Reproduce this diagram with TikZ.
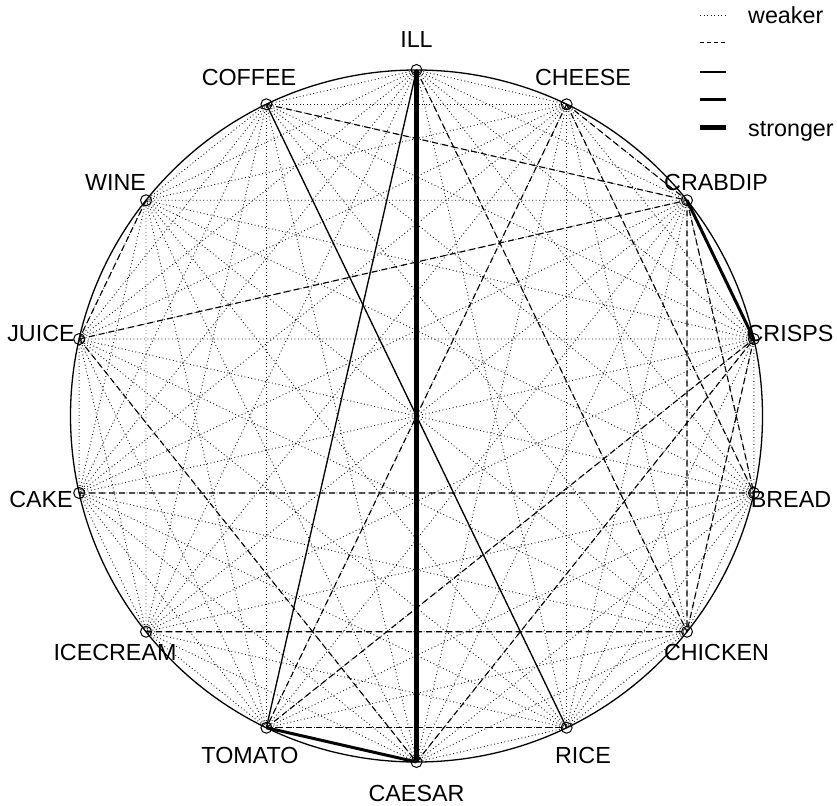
\documentclass[tikz,border=0pt]{standalone}
\usepackage{fontspec}
\setmainfont{Liberation Sans}
\begin{document}
\begin{tikzpicture}[x=1pt,y=-1pt,
  vtx/.style={circle,draw=black,line width=1pt,minimum size=11pt,inner sep=0pt},
  lbl/.style={inner sep=0pt,font=\fontsize{23.3}{28}\selectfont},
  weak/.style={line width=0.9pt,dash pattern=on 0.9pt off 2.6pt,black!90},
  dsh/.style={line width=1.1pt,dash pattern=on 6pt off 4pt},
  sld/.style={line width=1.3pt},
  thk/.style={line width=3pt},
  thkk/.style={line width=5pt}]
\useasboundingbox (0,0) rectangle (837,805);
% vertices
\foreach \n [count=\i from 0] in {ILL,CHEESE,CRABDIP,CRISPS,BREAD,CHICKEN,RICE,CAESAR,TOMATO,ICECREAM,CAKE,JUICE,WINE,COFFEE}{
  \coordinate (v\i) at ({416.5+346*cos(90-\i*360/14)},{416-346*sin(90-\i*360/14)});
}
% weakest: all pairs
\foreach \a in {0,...,12}{
  \pgfmathtruncatemacro\s{\a+1}
  \foreach \b in {\s,...,13}{
    \draw[weak] (v\a) -- (v\b);
  }
}
\draw[line width=1.3pt] (416.5,416) circle[radius=346];
\foreach \n [count=\i from 0] in {ILL,CHEESE,CRABDIP,CRISPS,BREAD,CHICKEN,RICE,CAESAR,TOMATO,ICECREAM,CAKE,JUICE,WINE,COFFEE}{
  \node[vtx] (\n) at (v\i) {};
}
% dashed
\foreach \a/\b in {COFFEE/CRABDIP,CHEESE/CRABDIP,CHEESE/BREAD,CHEESE/TOMATO,ILL/CHICKEN,JUICE/CRABDIP,WINE/JUICE,JUICE/CAESAR,CAKE/BREAD,ICECREAM/CHICKEN,TOMATO/RICE,CAESAR/CRISPS,TOMATO/CRISPS,CRABDIP/CHICKEN,CRABDIP/BREAD,CRISPS/CHICKEN}{
  \draw[dsh] (\a.center) -- (\b.center);
}
% solid
\draw[sld] (COFFEE.center) -- (RICE.center);
\draw[sld] (ILL.center) -- (TOMATO.center);
% thick
\draw[thk] (CRABDIP.center) -- (CRISPS.center);
\draw[thk] (TOMATO.center) -- (CAESAR.center);
% thickest
\draw[thkk] (ILL.center) -- (CAESAR.center);
% labels
\node[lbl] (lILL) at (416.5,39) {ILL};
\node[lbl] (lCAESAR) at (416.5,793) {CAESAR};
\node[lbl] (lCOFFEE) at (249,77) {COFFEE};
\node[lbl] (lCHEESE) at (583,77) {CHEESE};
\node[lbl] (lWINE) at (115.5,182) {WINE};
\node[lbl] (lCRABDIP) at (716,182) {CRABDIP};
\node[lbl] (lJUICE) at (41,333) {JUICE};
\node[lbl] (lCRISPS) at (790,333) {CRISPS};
\node[lbl] (lCAKE) at (41,499) {CAKE};
\node[lbl] (lBREAD) at (791,499) {BREAD};
\node[lbl] (lICECREAM) at (115,652) {ICECREAM};
\node[lbl] (lCHICKEN) at (716.5,652) {CHICKEN};
\node[lbl] (lTOMATO) at (250,755) {TOMATO};
\node[lbl] (lRICE) at (583,755) {RICE};
% legend
\coordinate (g1a) at (700,15);  \coordinate (g1b) at (726,15);
\coordinate (g2a) at (700,43);  \coordinate (g2b) at (726,43);
\coordinate (g3a) at (700,72);  \coordinate (g3b) at (726,72);
\coordinate (g4a) at (700,100); \coordinate (g4b) at (726,100);
\coordinate (g5a) at (700,128); \coordinate (g5b) at (726,128);
\draw[weak] (g1a) -- (g1b);
\draw[line width=1pt,dash pattern=on 4pt off 3pt] (g2a) -- (g2b);
\draw[sld] (g3a) -- (g3b);
\draw[thk] (g4a) -- (g4b);
\draw[thkk] (g5a) -- (g5b);
\node[lbl,anchor=base west] (lweak) at (748,24) {weaker};
\node[lbl,anchor=base west] (lstrong) at (748,137) {stronger};
\end{tikzpicture}
\end{document}
